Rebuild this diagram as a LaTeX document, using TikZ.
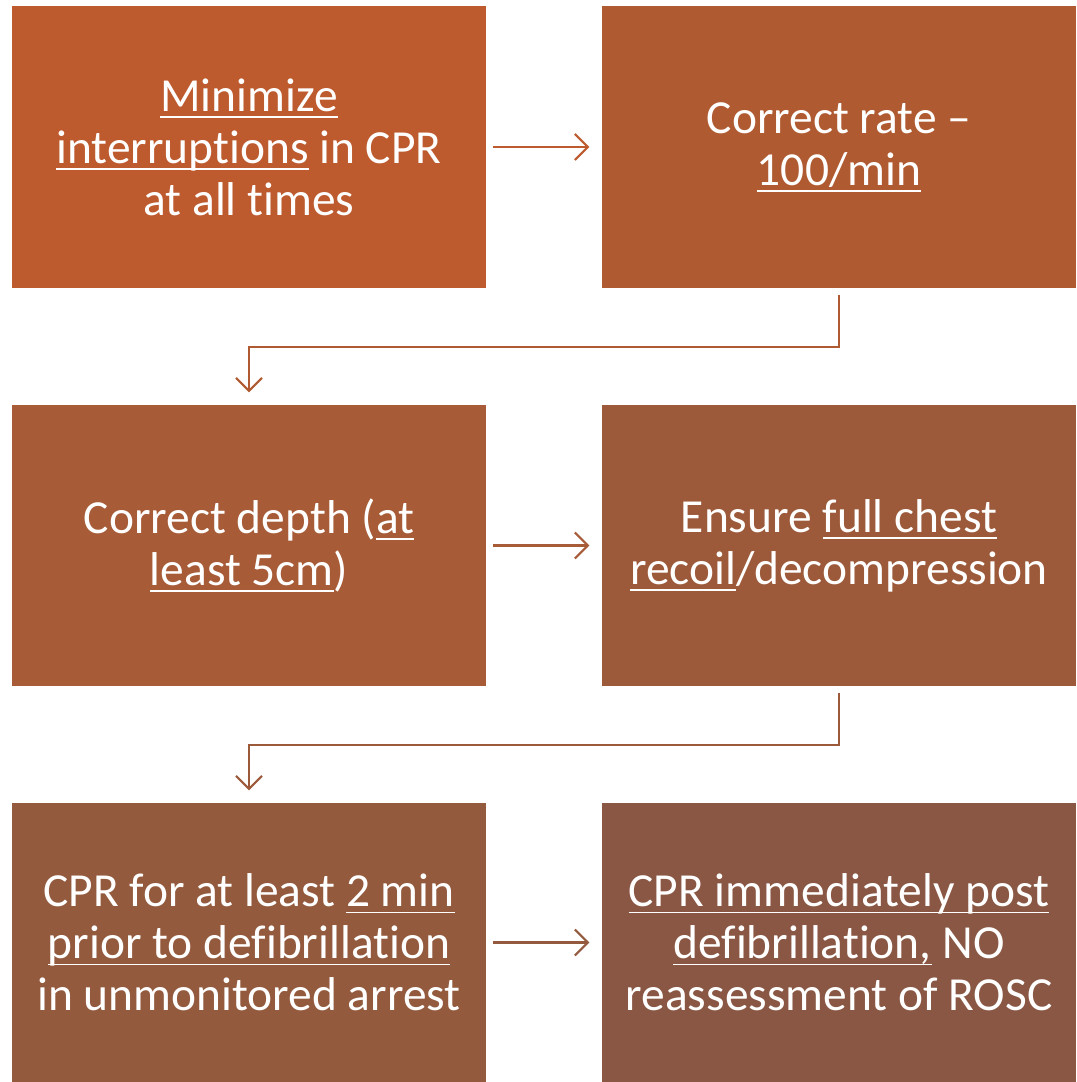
\documentclass[tikz,border=0pt]{standalone}
\usepackage{fontspec}
\setmainfont[Ligatures=NoCommon]{Carlito}
\usepackage{tikz}
\usetikzlibrary{arrows.meta,positioning,calc}
\definecolor{stepA}{RGB}{189,90,46}
\definecolor{stepB}{RGB}{176,90,49}
\definecolor{stepC}{RGB}{167,91,54}
\definecolor{stepD}{RGB}{157,90,58}
\definecolor{stepE}{RGB}{147,90,62}
\definecolor{stepF}{RGB}{137,87,67}
\newsavebox\ulbox
\newcommand\ulw[1]{\sbox\ulbox{#1}\rlap{\rule[-1.9pt]{\wd\ulbox}{0.55pt}}\usebox\ulbox}
\tikzset{
  stepbox/.style={
    shape = rectangle,
    minimum width = 4.74cm,
    minimum height = 2.81cm,
    inner sep = 0pt,
    text = white,
    align = center,
    font = \fontsize{13.5}{14.8}\selectfont
  },
  link/.style={
    line width = 0.6pt,
    -{Straight Barb[length=1.3mm,width=2.6mm,line width=0.6pt]},
    shorten < = 0.06cm,
    shorten > = 0.12cm
  },
}
\begin{document}
\begin{tikzpicture}
        \useasboundingbox (0,0) rectangle (10.76,10.82);

        \node[stepbox, fill=stepA, minimum height=2.82cm] (minimize) at (2.49,9.35) {\ulw{Minimize}\\ \ulw{interruptions} in CPR\\ at all times};
        \node[stepbox, fill=stepB, minimum height=2.82cm] (rate) at (8.39,9.35) {Correct rate --\\ \ulw{100/min}};

        \node[stepbox, fill=stepC] (depth) at (2.49,5.365) {Correct depth (\ulw{at}\\ \ulw{least 5cm})};
        \node[stepbox, fill=stepD] (recoil) at (8.39,5.365) {Ensure \ulw{full chest}\\ \ulw{recoil}/decompression};

        \node[stepbox, fill=stepE, minimum height=2.79cm] (prior) at (2.49,1.395) {CPR for at least \ulw{2 min}\\ \ulw{prior to defibrillation}\\ in unmonitored arrest};
        \node[stepbox, fill=stepF, minimum height=2.79cm] (post) at (8.39,1.395) {\ulw{CPR immediately post}\\ \ulw{defibrillation,} NO\\ reassessment of ROSC};

        \draw[link, stepA] (minimize) -- (rate);
        \draw[link, stepB] (rate.south) -- ++(0,-0.58) -| (depth.north);
        \draw[link, stepC] (depth) -- (recoil);
        \draw[link, stepD] (recoil.south) -- ++(0,-0.58) -| (prior.north);
        \draw[link, stepE] (prior) -- (post);
\end{tikzpicture}
\end{document}
